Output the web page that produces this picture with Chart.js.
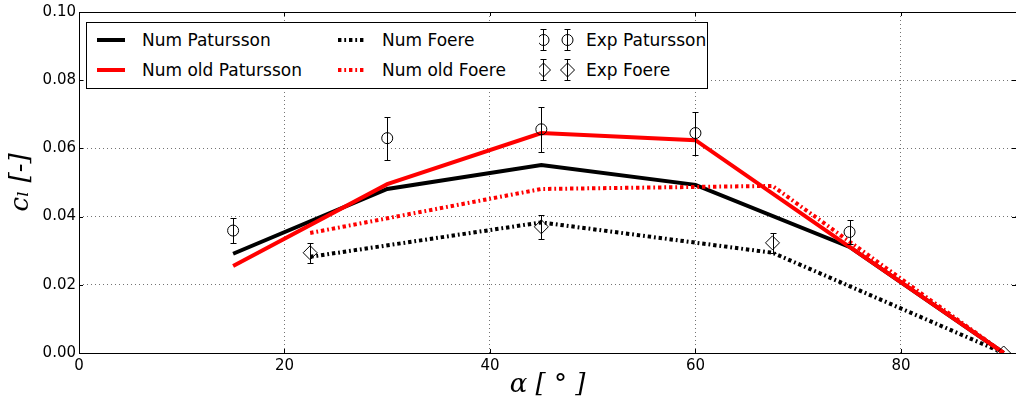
<!DOCTYPE html>
<html>
<head>
<meta charset="utf-8">
<script src="https://cdn.jsdelivr.net/npm/chart.js@4.4.1/dist/chart.umd.min.js"></script>
<style>
  html, body { margin: 0; padding: 0; background: #fff; }
  #wrap { position: relative; width: 1016px; height: 405px; overflow: hidden; }
  #legend {
    position: absolute; left: 86px; top: 22px; width: 622px; height: 67px;
    box-sizing: border-box; border: 1px solid #000; background: #fff;
    font-family: 'DejaVu Sans', sans-serif; font-size: 17px; color: #000;
  }
  #legend svg, #legend span { position: absolute; }
  #legend span { line-height: 20px; white-space: nowrap; }
</style>
</head>
<body>
<div id="wrap">
  <canvas id="chart" width="1016" height="405"></canvas>
  <div id="legend"></div>
</div>
<script>
// valeurs
const xPatursson      = [15, 30, 45, 60, 75, 90];
const numPatursson    = [0.0291, 0.0481, 0.0551, 0.0493, 0.0311, 0.0];
const numOldPatursson = [0.0255, 0.0495, 0.0645, 0.0624, 0.0311, 0.0];

const xFoere      = [22.5, 45, 67.5, 90];
const numFoere    = [0.0282, 0.0383, 0.0294, 0.0];
const numOldFoere = [0.0352, 0.0481, 0.0490, 0.0];

const xExpPatursson = [15, 30, 45, 60, 75];
const expPatursson  = [0.0359, 0.0630, 0.0656, 0.0645, 0.0355];
const errPatursson  = [0.0037, 0.0063, 0.0066, 0.0063, 0.0035];

const xExpFoere = [22.5, 45, 67.5, 90];
const expFoere  = [0.0294, 0.0370, 0.0323, 0.0];
const errFoere  = [0.0030, 0.0035, 0.0030, 0.0];

const xTicks = [0, 20, 40, 60, 80];
const yTicks = [0, 0.02, 0.04, 0.06, 0.08, 0.10];

const RED = '#ff0000';
const DASHDOT = [3.4, 2.9, 1.8, 2.9];

const pts = (xs, ys) => xs.map((x, i) => ({ x, y: ys[i] }));

const lineDs = (label, xs, ys, color, dash, order) => ({
  label, data: pts(xs, ys), showLine: true,
  borderColor: color, borderWidth: 4, borderDash: dash || [],
  pointRadius: 0, pointHoverRadius: 0, order,
});

const expDs = (label, xs, ys, errs, style, radius) => ({
  label, data: pts(xs, ys), showLine: false, errors: errs,
  pointStyle: style, pointRadius: radius, pointBorderWidth: 1,
  pointBorderColor: '#000', pointBackgroundColor: 'rgba(0,0,0,0)',
  borderColor: '#000', backgroundColor: 'rgba(0,0,0,0)', order: 0,
});

// barres d'erreur dessinées via les échelles
const errorBars = {
  id: 'errorBars',
  afterDatasetsDraw(chart) {
    const { ctx, scales: { x, y } } = chart;
    ctx.save();
    ctx.strokeStyle = '#000';
    ctx.lineWidth = 1;
    chart.data.datasets.forEach(ds => {
      if (!ds.errors) return;
      ds.data.forEach((p, i) => {
        const e = ds.errors[i];
        if (!e) return;
        const px = Math.round(x.getPixelForValue(p.x)) + 0.5;
        const top = Math.round(y.getPixelForValue(p.y + e)) + 0.5;
        const bot = Math.round(y.getPixelForValue(p.y - e)) + 0.5;
        ctx.beginPath();
        ctx.moveTo(px, top); ctx.lineTo(px, bot);
        ctx.moveTo(px - 3, top); ctx.lineTo(px + 3, top);
        ctx.moveTo(px - 3, bot); ctx.lineTo(px + 3, bot);
        ctx.stroke();
      });
    });
    ctx.restore();
  },
};

// cadre + graduations intérieures (style matplotlib)
const frame = {
  id: 'frame',
  afterDraw(chart) {
    const { ctx, chartArea: a, scales: { x, y } } = chart;
    ctx.save();
    ctx.strokeStyle = '#000';
    ctx.lineWidth = 1;
    ctx.strokeRect(Math.round(a.left) + 0.5, Math.round(a.top) + 0.5,
      Math.round(a.right - a.left), Math.round(a.bottom - a.top));
    ctx.beginPath();
    xTicks.forEach(v => {
      const px = Math.round(x.getPixelForValue(v)) + 0.5;
      ctx.moveTo(px, a.bottom); ctx.lineTo(px, a.bottom - 4);
      ctx.moveTo(px, a.top); ctx.lineTo(px, a.top + 4);
    });
    yTicks.forEach(v => {
      const py = Math.round(y.getPixelForValue(v)) + 0.5;
      ctx.moveTo(a.left, py); ctx.lineTo(a.left + 4, py);
      ctx.moveTo(a.right, py); ctx.lineTo(a.right - 4, py);
    });
    ctx.stroke();
    ctx.restore();
  },
};

const tickFont = { family: 'DejaVu Sans', size: 15 };
const titleFont = { family: 'DejaVu Serif', size: 26, style: 'italic' };
const gridOpts = { color: 'rgba(0,0,0,0.55)', lineWidth: 1, drawTicks: false };

const chart = new Chart(document.getElementById('chart'), {
  type: 'scatter',
  data: {
    datasets: [
      lineDs('Num Patursson', xPatursson, numPatursson, '#000', null, 3),
      lineDs('Num old Patursson', xPatursson, numOldPatursson, RED, null, 1),
      lineDs('Num Foere', xFoere, numFoere, '#000', DASHDOT, 4),
      lineDs('Num old Foere', xFoere, numOldFoere, RED, DASHDOT, 2),
      expDs('Exp Patursson', xExpPatursson, expPatursson, errPatursson, 'circle', 5.5),
      expDs('Exp Foere', xExpFoere, expFoere, errFoere, 'rectRot', 7),
    ],
  },
  options: {
    responsive: false,
    animation: false,
    layout: { autoPadding: false, padding: { top: 12, right: 0, left: 0, bottom: 0 } },
    plugins: { legend: { display: false }, tooltip: { enabled: false } },
    scales: {
      x: {
        type: 'linear', min: 0, max: 91.2,
        afterBuildTicks: s => { s.ticks = xTicks.map(v => ({ value: v })); },
        afterFit: s => { s.height = 52; s.paddingLeft = 0; s.paddingRight = 0; },
        ticks: { font: tickFont, color: '#000', padding: 4, maxRotation: 0, autoSkip: false,
                 callback: v => String(v) },
        grid: gridOpts,
        border: { display: false, dash: [1, 3] },
        title: { display: true, text: 'α [ ° ]', font: titleFont, color: '#000',
                 padding: { top: 0, bottom: 4 } },
      },
      y: {
        type: 'linear', min: 0, max: 0.1,
        afterBuildTicks: s => { s.ticks = yTicks.map(v => ({ value: v })); },
        afterFit: s => { s.width = 79; s.paddingTop = 0; s.paddingBottom = 0; },
        ticks: { font: tickFont, color: '#000', padding: 3, autoSkip: false,
                 callback: v => v.toFixed(2) },
        grid: gridOpts,
        border: { display: false, dash: [1, 3] },
        title: { display: true, text: 'cₗ [-]', font: titleFont, color: '#000',
                 padding: { top: 6, bottom: 0 } },
      },
    },
  },
  plugins: [errorBars, frame],
});

// légende façon matplotlib (ncol=3, remplie par colonnes)
function buildLegend() {
  const box = document.getElementById('legend');
  const ds = chart.data.datasets;
  const colX = [10, 251, 452];
  const textX = [55, 295, 499];
  const rowY = [18, 48];
  const svgNS = 'http://www.w3.org/2000/svg';
  ds.forEach((d, i) => {
    const col = Math.floor(i / 2), row = i % 2;
    const svg = document.createElementNS(svgNS, 'svg');
    svg.setAttribute('width', 40);
    svg.setAttribute('height', 30);
    svg.style.left = colX[col] + 'px';
    svg.style.top = (rowY[row] - 15 - 1) + 'px';
    if (d.showLine) {
      const ln = document.createElementNS(svgNS, 'line');
      ln.setAttribute('x1', 0); ln.setAttribute('x2', 28);
      ln.setAttribute('y1', 15); ln.setAttribute('y2', 15);
      ln.setAttribute('stroke', d.borderColor);
      ln.setAttribute('stroke-width', 4);
      if (d.borderDash.length) ln.setAttribute('stroke-dasharray', d.borderDash.join(' '));
      svg.appendChild(ln);
    } else {
      [4, 28].forEach(cx => {
        const eb = document.createElementNS(svgNS, 'path');
        eb.setAttribute('d', `M${cx + 0.5} 4 V26 M${cx - 2.5} 4.5 H${cx + 3.5} M${cx - 2.5} 25.5 H${cx + 3.5}`);
        eb.setAttribute('stroke', '#000'); eb.setAttribute('stroke-width', 1); eb.setAttribute('fill', 'none');
        svg.appendChild(eb);
        let m;
        if (d.pointStyle === 'circle') {
          m = document.createElementNS(svgNS, 'circle');
          m.setAttribute('cx', cx + 0.5); m.setAttribute('cy', 15); m.setAttribute('r', d.pointRadius);
        } else {
          m = document.createElementNS(svgNS, 'path');
          const r = d.pointRadius, c = cx + 0.5;
          m.setAttribute('d', `M${c} ${15 - r} L${c + r} 15 L${c} ${15 + r} L${c - r} 15 Z`);
        }
        m.setAttribute('stroke', '#000'); m.setAttribute('stroke-width', 1); m.setAttribute('fill', 'none');
        svg.appendChild(m);
      });
    }
    box.appendChild(svg);
    const t = document.createElement('span');
    t.textContent = d.label;
    t.style.left = textX[col] + 'px';
    t.style.top = (rowY[row] - 10 - 1) + 'px';
    box.appendChild(t);
  });
}
buildLegend();
</script>
</body>
</html>
